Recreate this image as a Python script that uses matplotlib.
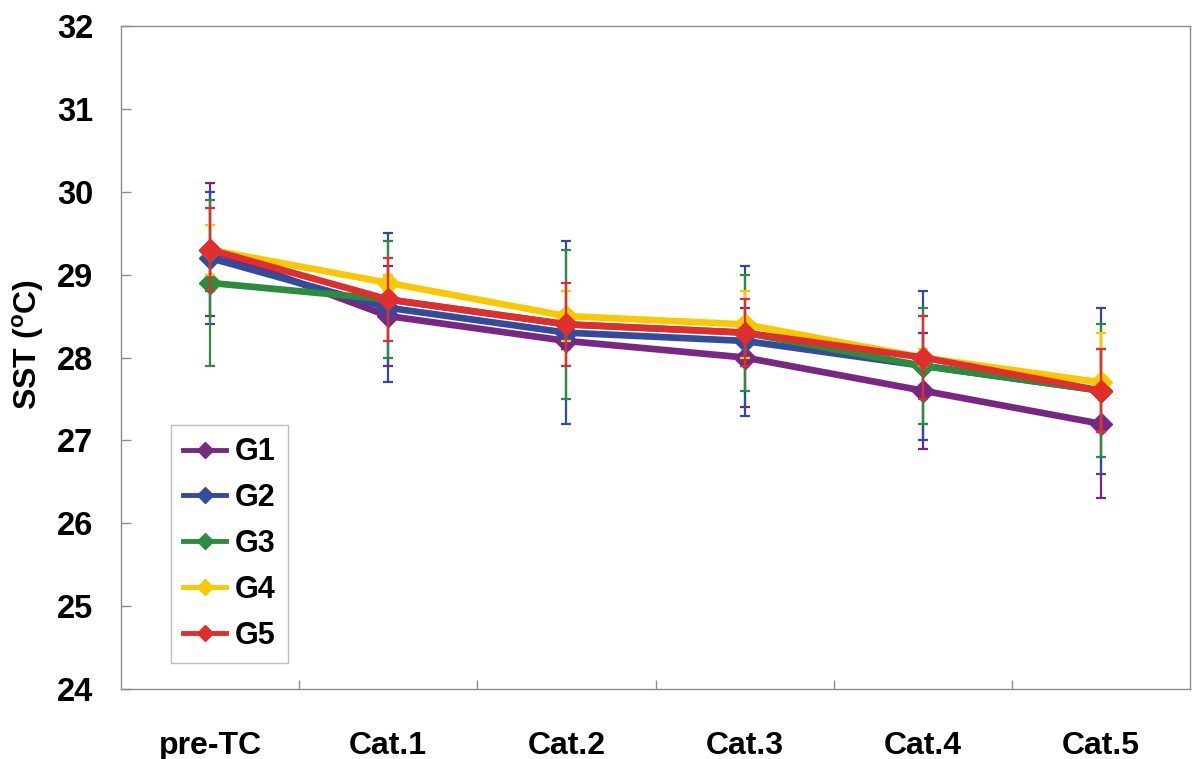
import matplotlib
matplotlib.use("Agg")
import matplotlib.pyplot as plt
from matplotlib.lines import Line2D

plt.rcParams['font.family'] = ['Liberation Sans', 'DejaVu Sans']
plt.rcParams['font.weight'] = 'bold'
plt.rcParams['mathtext.fontset'] = 'custom'
plt.rcParams['mathtext.bf'] = 'Liberation Sans:bold'
plt.rcParams['mathtext.rm'] = 'Liberation Sans:bold'

# stages and mean SST with error for each group
stages = ['pre-TC', 'Cat.1', 'Cat.2', 'Cat.3', 'Cat.4', 'Cat.5']
groups = ['G1', 'G2', 'G3', 'G4', 'G5']
colors = ['#782882', '#324B9B', '#2A8C3C', '#FAC800', '#E12D2D']

g1_mean = [29.3, 28.5, 28.2, 28.0, 27.6, 27.2]
g1_err = [0.8, 0.6, 0.1, 0.6, 0.7, 0.9]
g2_mean = [29.2, 28.6, 28.3, 28.2, 27.9, 27.6]
g2_err = [0.8, 0.9, 1.1, 0.9, 0.9, 1.0]
g3_mean = [28.9, 28.7, 28.4, 28.3, 27.9, 27.6]
g3_err = [1.0, 0.7, 0.9, 0.7, 0.7, 0.8]
g4_mean = [29.3, 28.9, 28.5, 28.4, 28.0, 27.7]
g4_err = [0.3, 0.1, 0.3, 0.4, 0.1, 0.6]
g5_mean = [29.3, 28.7, 28.4, 28.3, 28.0, 27.6]
g5_err = [0.5, 0.5, 0.5, 0.4, 0.5, 0.5]

means = [g1_mean, g2_mean, g3_mean, g4_mean, g5_mean]
errs = [g1_err, g2_err, g3_err, g4_err, g5_err]

fig = plt.figure(figsize=(11.93, 7.59), dpi=100)
ax = fig.add_axes([121 / 1193, 1 - 689 / 759, 1069 / 1193, 663 / 759])

x = list(range(len(stages)))
handles = []
for i, (name, m, e, c) in enumerate(zip(groups, means, errs, colors)):
    ax.errorbar(x, m, yerr=e, color=c, ecolor=c, lw=4.8, marker='D', ms=11,
                elinewidth=1.6, capsize=3.5, capthick=1.6, zorder=3 + i)
    handles.append(Line2D([], [], color=c, lw=3.5, marker='D', ms=8,
                          label=name))

ax.set_xlim(-0.5, 5.5)
ax.set_ylim(24, 32)
ax.set_yticks(range(24, 33))
ax.set_xticks(x)
ax.set_xticklabels(stages)
ax.set_xticks([0.5, 1.5, 2.5, 3.5, 4.5], minor=True)

ax.tick_params(axis='x', which='major', length=0, pad=30, labelsize=23)
ax.tick_params(axis='x', which='minor', direction='in', length=6.5,
               color='#8c8c8c', width=1)
ax.tick_params(axis='y', direction='in', length=7, color='#8c8c8c', width=1,
               pad=20, labelsize=23.5)
for s in ax.spines.values():
    s.set_color('#8c8c8c')
    s.set_linewidth(1.0)

ax.set_ylabel('SST ($^{\\mathbf{o}}$C)', fontsize=23, fontweight='bold')
ax.yaxis.set_label_coords(-0.07, 0.52)

leg = ax.legend(handles=handles, loc='upper left',
                bbox_to_anchor=(50 / 1069, 264 / 663),
                borderaxespad=0, fontsize=22, frameon=True, fancybox=False,
                handlelength=1.4, handletextpad=0.28, labelspacing=0.52,
                borderpad=0.4)
leg.get_frame().set_edgecolor('#b0b0b0')
leg.get_frame().set_linewidth(1.0)

fig.savefig('out.png', dpi=100)
